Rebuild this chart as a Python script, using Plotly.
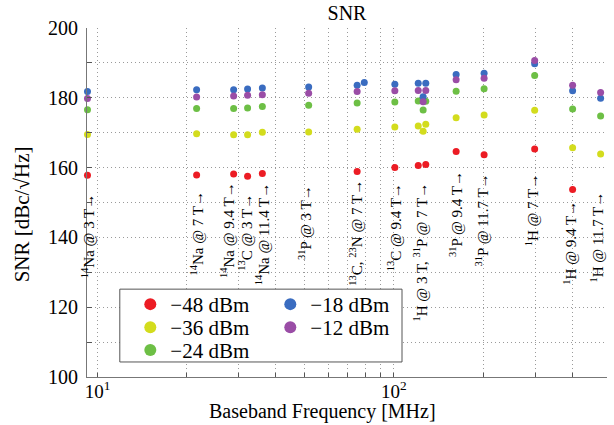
import math
import plotly.graph_objects as go

# ---- data ----
freq_mhz = [9.25, 21.6, 28.8, 32.1, 36.0, 51.6, 75.2, 79.5, 100.8, 120.9, 125.6, 128.2,
            162.3, 201.7, 298.8, 401.3, 498.8]
snr_m48 = [157.8, 157.9, 158.2, 157.5, 158.3, None, 158.9, None, 160.0, 160.6, None, 160.9,
           164.6, 163.7, 165.3, 153.7, None]
snr_m36 = [169.5, 169.7, 169.4, 169.4, 170.1, 170.2, 171.0, None, 171.6, 171.9, 170.4, 172.4,
           174.3, 175.1, 176.4, 165.7, 163.9]
snr_m24 = [176.6, 176.9, 176.9, 177.1, 177.5, 177.9, 178.5, None, 178.8, 179.1, 176.5, 179.0,
           181.9, 182.6, 186.4, 176.8, 174.8]
snr_m18 = [181.8, 182.3, 182.3, 182.5, 182.8, 183.1, 183.6, 184.4, 183.9, 184.2, 180.3, 184.2,
           186.7, 187.0, 189.75, 182.0, 179.9]
snr_m12 = [179.8, 180.2, 180.5, 180.7, 180.9, 181.3, 181.8, None, 182.0, 182.1, 178.9, 182.1,
           185.2, 185.6, 190.7, 183.6, 181.5]

series_names = ["\u221248 dBm", "\u221236 dBm", "\u221224 dBm", "\u221218 dBm", "\u221212 dBm"]
series_values = [snr_m48, snr_m36, snr_m24, snr_m18, snr_m12]
series_colors = ["#ec1c24", "#d3dc1d", "#6dbf45", "#3a6cc0", "#9a4da6"]
series_legend = ["legend", "legend2", "legend3", "legend", "legend2"]

label_texts = [
    "<sup>14</sup>Na @ 3 T\u2192",
    "<sup>14</sup>Na @ 7 T\u2192",
    "<sup>14</sup>Na @ 9.4 T\u2192",
    "<sup>13</sup>C @ 3 T\u2192",
    "<sup>14</sup>Na @ 11.4 T\u2192",
    "<sup>31</sup>P @ 3 T\u2192",
    "<sup>13</sup>C, <sup>23</sup>N @ 7 T\u2192",
    "<sup>13</sup>C @ 9.4 T\u2192",
    "<sup>1</sup>H @ 3 T, <sup>31</sup>P @ 7 T\u2192",
    "<sup>31</sup>P @ 9.4 T\u2192",
    "<sup>31</sup>P @ 11.7 T\u2192",
    "<sup>1</sup>H @ 7 T\u2192",
    "<sup>1</sup>H @ 9.4 T\u2192",
    "<sup>1</sup>H @ 11.7 T\u2192",
]
label_x = [9.25, 21.6, 27.4, 31.6, 36.0, 50.4, 74.3, 100.0, 123.0, 161.4, 198.6, 292.8, 394.3, 485.1]
label_y = [153.1, 153.6, 156.5, 153.1, 156.3, 155.6, 157.0, 156.0, 156.3, 159.7, 158.8, 158.8, 151.2, 153.6]

x_tickvals = [10, 20, 30, 40, 50, 60, 70, 80, 90, 100, 200, 300, 400]
x_ticktext = ["10<sup>1</sup>"] + [""] * 8 + ["10<sup>2</sup>"] + [""] * 3
y_tickvals = list(range(100, 201, 10))
y_ticktext = [str(v) if v % 20 == 0 else "" for v in y_tickvals]

x_title = "Baseband Frequency [MHz]"
y_title = "SNR [dBc/\u221aHz]"
chart_title = "SNR"

FONT = "Liberation Serif"

fig = go.Figure()
for name, vals, col, lg in zip(series_names, series_values, series_colors, series_legend):
    fig.add_trace(go.Scatter(
        x=freq_mhz, y=vals, mode="markers", name=name, legend=lg,
        marker=dict(color=col, size=7, line=dict(width=0)),
        cliponaxis=False,
    ))

for t, x, y in zip(label_texts, label_x, label_y):
    # annotation positions on a log axis are given in log10 units
    fig.add_annotation(x=math.log10(x), y=y, xref="x", yref="y", text=t, showarrow=False,
                       textangle=-90, xanchor="center", yanchor="top",
                       font=dict(family=FONT, size=15, color="black"))

L, R, T, B = 86.7, 7.3, 28.3, 48.3
W, H = 614, 425
pw, ph = W - L - R, H - T - B

def px2paper_x(px):
    return (px - L) / pw

def py2paper_y(py):
    return (H - B - py) / ph

# axis titles placed as paper-anchored text (as in the original, not exactly centred)
fig.add_annotation(x=px2paper_x(322), y=py2paper_y(411), xref="paper", yref="paper",
                   text=x_title, showarrow=False, xanchor="center", yanchor="middle",
                   font=dict(family=FONT, size=20, color="black"))
fig.add_annotation(x=px2paper_x(22), y=py2paper_y(214), xref="paper", yref="paper",
                   text=y_title, showarrow=False, textangle=-90, xanchor="center", yanchor="middle",
                   font=dict(family=FONT, size=21, color="black"))

legend_common = dict(orientation="h", xanchor="left", yanchor="middle",
                     bgcolor="rgba(0,0,0,0)", borderwidth=0,
                     font=dict(family=FONT, size=21, color="black"),
                     itemsizing="constant", entrywidth=95, entrywidthmode="pixels",
                     itemclick=False)

fig.update_layout(
    width=W, height=H,
    margin=dict(l=L, r=R, t=T, b=B, autoexpand=False),
    paper_bgcolor="white", plot_bgcolor="white",
    font=dict(family=FONT, color="black"),
    title=dict(text=chart_title, xref="paper", x=0.5, xanchor="center",
               y=1 - 13 / H, yanchor="middle", font=dict(family=FONT, size=20, color="black")),
    legend=dict(x=px2paper_x(130), y=py2paper_y(304.3), **legend_common),
    legend2=dict(x=px2paper_x(130), y=py2paper_y(327.3), **legend_common),
    legend3=dict(x=px2paper_x(130), y=py2paper_y(350.0), **legend_common),
    showlegend=True,
    shapes=[dict(type="rect", xref="paper", yref="paper",
                 x0=px2paper_x(119.5), x1=px2paper_x(401.7),
                 y0=py2paper_y(361.7), y1=py2paper_y(289.0),
                 line=dict(color="#555555", width=1), fillcolor="white", layer="above")],
)

fig.update_xaxes(
    type="log", range=[0.9645, 2.7195], automargin=False,
    tickmode="array", tickvals=x_tickvals, ticktext=x_ticktext,
    ticks="inside", ticklen=4, tickcolor="#555555",
    showline=True, linecolor="#777777", linewidth=1,
    showgrid=True, gridcolor="#9a9a9a", gridwidth=1, griddash="1px,3px",
    tickfont=dict(family=FONT, size=19, color="black"), ticklabelstandoff=-3,
    zeroline=False,
)
fig.update_yaxes(
    range=[100, 200], automargin=False,
    tickmode="array", tickvals=y_tickvals, ticktext=y_ticktext,
    ticks="inside", ticklen=5, tickcolor="#555555",
    showline=True, linecolor="#777777", linewidth=1,
    showgrid=True, gridcolor="#9a9a9a", gridwidth=1, griddash="1px,3px",
    tickfont=dict(family=FONT, size=20, color="black"), ticklabelstandoff=4,
    zeroline=False,
)

fig.write_html("out.html", config={"displayModeBar": False},
               post_script="document.body.style.margin='0';")
